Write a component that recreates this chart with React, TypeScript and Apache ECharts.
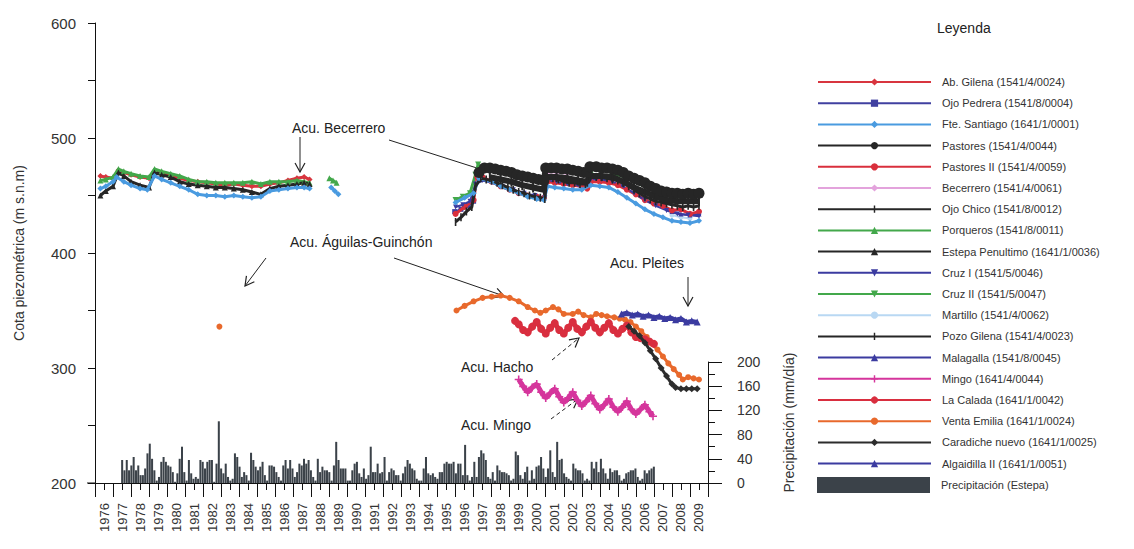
import React, { useEffect, useRef } from "react";
import * as echarts from "echarts";

// ---------- tick labels ----------
const yearLabels = [1976, 1977, 1978, 1979, 1980, 1981, 1982, 1983, 1984, 1985, 1986, 1987, 1988, 1989, 1990, 1991, 1992, 1993, 1994, 1995, 1996, 1997, 1998, 1999, 2000, 2001, 2002, 2003, 2004, 2005, 2006, 2007, 2008, 2009];
const yearBoundaries = [1976, 1977, 1978, 1979, 1980, 1981, 1982, 1983, 1984, 1985, 1986, 1987, 1988, 1989, 1990, 1991, 1992, 1993, 1994, 1995, 1996, 1997, 1998, 1999, 2000, 2001, 2002, 2003, 2004, 2005, 2006, 2007, 2008, 2009, 2010];

// ---------- piezometric series ([decimal year, m s.n.m]) ----------
const abGilena = [[1976.3, 467], [1976.6, 466], [1977.0, 465], [1977.3, 472], [1977.6, 470], [1978.0, 468], [1978.5, 466], [1979.0, 465], [1979.3, 471], [1979.7, 469], [1980.2, 467], [1980.7, 465], [1981.2, 463], [1981.7, 462], [1982.2, 461], [1982.7, 460], [1983.2, 459], [1983.7, 460], [1984.2, 459], [1984.7, 458], [1985.2, 458], [1985.7, 460], [1986.2, 461], [1986.7, 463], [1987.2, 465], [1987.6, 466], [1987.9, 464]];
const ojoPedrera = [[1995.95, 436], [1996.3, 438], [1996.7, 441], [1997.0, 445]];
const fteSantiago = [[1976.3, 456], [1976.6, 458], [1977.0, 462], [1977.2, 466], [1977.6, 462], [1978.0, 459], [1978.5, 456], [1978.9, 455], [1979.3, 467], [1979.7, 464], [1980.2, 461], [1980.7, 458], [1981.2, 455], [1981.7, 451], [1982.2, 450], [1982.7, 450], [1983.2, 449], [1983.7, 450], [1984.2, 449], [1984.7, 448], [1985.2, 449], [1985.7, 454], [1986.2, 455], [1986.7, 456], [1987.2, 457], [1987.6, 457], [1987.9, 456], [1988.5, "-"], [1989.1, 457], [1989.3, 454], [1989.5, 451], [1992, "-"], [1996.0, 444], [1996.5, 448], [1997.0, 452], [1997.3, 465], [1998.0, 462], [1998.5, 458], [1999.0, 455], [1999.5, 452], [2000.0, 449], [2000.5, 447], [2000.9, 446], [2001.1, 458], [2001.5, 457], [2002.0, 456], [2002.5, 455], [2003.0, 455], [2003.5, 459], [2004.0, 458], [2004.5, 457], [2005.0, 453], [2005.5, 448], [2006.0, 443], [2006.5, 438], [2007.0, 434], [2007.5, 431], [2008.0, 428], [2008.5, 427], [2009.0, 426], [2009.5, 428]];
const pastores = [[1997.3, 470], [1997.6, 474], [1997.9, 474], [1998.2, 473], [1998.5, 472], [1998.8, 471], [1999.1, 470], [1999.4, 468], [1999.7, 467], [2000.0, 466], [2000.3, 465], [2000.6, 464], [2000.9, 463], [2001.0, 474], [2001.3, 474], [2001.6, 474], [2001.9, 473], [2002.2, 473], [2002.5, 472], [2002.8, 471], [2003.1, 470], [2003.3, 470], [2003.45, 475], [2003.8, 475], [2004.1, 474], [2004.4, 474], [2004.7, 473], [2005.0, 472], [2005.3, 470], [2005.6, 467], [2005.9, 465], [2006.2, 463], [2006.5, 461], [2006.8, 458], [2007.1, 456], [2007.4, 454], [2007.7, 453], [2008.0, 452], [2008.3, 452], [2008.6, 451], [2008.9, 452], [2009.2, 451], [2009.5, 452]];
const pastoresII = [[1996.0, 434], [1996.5, 440], [1997.0, 446], [1997.2, 466], [1997.5, 466], [1998.0, 462], [1998.5, 458], [1999.0, 455], [1999.5, 452], [2000.0, 450], [2000.5, 449], [2000.9, 448], [2001.1, 462], [2001.5, 461], [2002.0, 460], [2002.5, 459], [2003.0, 458], [2003.3, 456], [2003.5, 462], [2004.0, 462], [2004.5, 461], [2005.0, 459], [2005.5, 455], [2006.0, 451], [2006.5, 446], [2007.0, 443], [2007.5, 441], [2008.0, 437], [2008.5, 438], [2009.0, 434], [2009.5, 436]];
const becerrero = [[2001.1, 470], [2001.6, 470], [2002.2, 469]];
const ojoChico = [[1996.0, 427], [1996.3, 431], [1996.6, 436], [1996.9, 440], [1997.1, 458], [1997.4, 465], [1997.7, 464], [1998.0, 463], [1998.3, 461], [1998.6, 459], [1998.9, 457], [1999.2, 455], [1999.5, 453], [1999.8, 452], [2000.1, 450], [2000.4, 449], [2000.7, 448], [2000.95, 447], [2001.05, 465], [2001.4, 465], [2001.7, 464], [2002.0, 462], [2002.3, 461], [2002.6, 461], [2002.9, 460], [2003.2, 460], [2003.45, 466], [2003.8, 466], [2004.1, 466], [2004.4, 465], [2004.7, 464], [2005.0, 463], [2005.3, 461], [2005.6, 458], [2005.9, 455], [2006.2, 452], [2006.5, 449], [2006.8, 447], [2007.1, 445], [2007.4, 444], [2007.7, 443], [2008.0, 442], [2008.3, 441], [2008.6, 440], [2008.9, 441], [2009.2, 440], [2009.5, 441]];
const porqueros = [[1976.3, 463], [1976.6, 464], [1977.0, 466], [1977.3, 473], [1977.6, 471], [1978.0, 469], [1978.5, 467], [1979.0, 466], [1979.3, 473], [1979.7, 471], [1980.2, 469], [1980.7, 467], [1981.2, 464], [1981.7, 462], [1982.2, 462], [1982.7, 461], [1983.2, 461], [1983.7, 461], [1984.2, 461], [1984.7, 462], [1985.2, 460], [1985.7, 462], [1986.2, 462], [1986.7, 462], [1987.2, 463], [1987.6, 462], [1987.9, 461], [1988.5, "-"], [1989.0, 465], [1989.2, 463], [1989.4, 461]];
const estepaPenultimo = [[1976.3, 450], [1976.6, 454], [1977.0, 458], [1977.3, 470], [1977.6, 467], [1978.0, 462], [1978.5, 459], [1979.0, 457], [1979.3, 470], [1979.7, 468], [1980.2, 466], [1980.7, 462], [1981.2, 460], [1981.7, 459], [1982.2, 458], [1982.7, 457], [1983.2, 457], [1983.7, 456], [1984.2, 455], [1984.7, 453], [1985.2, 451], [1985.7, 456], [1986.2, 458], [1986.7, 459], [1987.2, 460], [1987.6, 461], [1987.9, 460]];
const cruzI = [[1996.0, 440], [1996.4, 442], [1996.8, 445], [1997.1, 460], [1997.5, 463], [1998.0, 461], [1998.6, 458], [1999.2, 455], [1999.8, 452], [2000.4, 450], [2000.95, 448], [2001.05, 463], [2001.6, 462], [2002.2, 460], [2002.8, 459], [2003.3, 459], [2003.5, 464], [2004.1, 464], [2004.7, 462], [2005.3, 458], [2005.9, 452], [2006.5, 446], [2007.1, 441], [2007.7, 437], [2008.3, 434], [2008.9, 433], [2009.5, 432]];
const cruzII = [[1996.0, 446], [1996.4, 449], [1996.8, 452], [1997.1, 468], [1997.25, 477], [1997.5, 474], [1997.9, 472], [1998.5, 470], [1999.1, 468], [1999.7, 465], [2000.3, 463], [2000.9, 461], [2001.05, 472], [2001.6, 472], [2002.2, 471], [2002.8, 469], [2003.3, 468], [2003.5, 470], [2003.8, 466], [2004.1, 464], [2004.4, 465], [2004.7, 467], [2005.0, 468], [2005.4, 466], [2005.9, 462], [2006.5, 458], [2007.1, 454], [2007.7, 451], [2008.3, 449], [2009.0, 450], [2009.5, 449]];
const martillo = [[2008.0, 433], [2008.5, 431], [2009.0, 430]];
const pozoGilena = [[1997.9, 466], [1998.5, 464], [1999.1, 462], [1999.7, 459], [2000.3, 457], [2000.9, 455], [2001.0, 466], [2001.6, 466], [2002.2, 465], [2002.8, 463], [2003.3, 462], [2003.45, 467], [2004.1, 467], [2004.7, 466], [2005.3, 462], [2005.9, 457], [2006.5, 453], [2007.1, 449], [2007.7, 446], [2008.3, 445], [2008.9, 445], [2009.5, 445]];
const malagalla = [[2005.2, 347], [2005.5, 348], [2005.8, 346], [2006.1, 347], [2006.4, 345], [2006.7, 346], [2007.0, 344], [2007.3, 345], [2007.6, 343], [2007.9, 344], [2008.2, 342], [2008.5, 343], [2008.8, 340], [2009.1, 341], [2009.4, 340]];
const mingo = [[1999.5, 290], [1999.75, 284], [2000.0, 279], [2000.25, 283], [2000.5, 286], [2000.75, 279], [2001.0, 274], [2001.25, 278], [2001.5, 282], [2001.75, 275], [2002.0, 270], [2002.25, 274], [2002.5, 279], [2002.75, 272], [2003.0, 267], [2003.25, 271], [2003.5, 276], [2003.75, 269], [2004.0, 264], [2004.25, 268], [2004.5, 273], [2004.75, 266], [2005.0, 262], [2005.25, 266], [2005.5, 271], [2005.75, 264], [2006.0, 260], [2006.25, 264], [2006.5, 268], [2006.75, 262], [2006.95, 258]];
const laCalada = [[1999.3, 341], [1999.5, 338], [1999.75, 333], [2000.0, 331], [2000.25, 336], [2000.5, 340], [2000.75, 334], [2001.0, 330], [2001.25, 335], [2001.5, 339], [2001.75, 333], [2002.0, 330], [2002.25, 335], [2002.5, 340], [2002.75, 334], [2003.0, 331], [2003.25, 336], [2003.5, 340], [2003.75, 335], [2004.0, 331], [2004.25, 335], [2004.5, 339], [2004.75, 333], [2005.0, 330], [2005.25, 334], [2005.5, 337], [2005.75, 331], [2006.0, 327], [2006.25, 326], [2006.5, 325], [2006.75, 323], [2007.0, 321]];
const ventaEmilia = [[1982.9, 336], [1990, "-"], [1996.05, 350], [1996.5, 354], [1997.0, 358], [1997.5, 361], [1998.0, 362], [1998.5, 363], [1999.0, 361], [1999.5, 358], [2000.0, 353], [2000.4, 350], [2000.7, 348], [2001.0, 350], [2001.4, 353], [2001.7, 351], [2002.0, 347], [2002.5, 347], [2002.8, 349], [2003.1, 346], [2003.5, 344], [2003.8, 347], [2004.1, 346], [2004.4, 345], [2004.8, 344], [2005.1, 343], [2005.4, 342], [2005.7, 340], [2006.0, 336], [2006.3, 332], [2006.6, 327], [2006.9, 321], [2007.2, 316], [2007.5, 310], [2007.8, 304], [2008.1, 299], [2008.4, 294], [2008.6, 290], [2008.9, 292], [2009.2, 291], [2009.5, 290]];
const caradicheNuevo = [[2005.6, 336], [2005.9, 332], [2006.2, 328], [2006.5, 322], [2006.8, 315], [2007.1, 308], [2007.4, 300], [2007.7, 293], [2008.0, 286], [2008.2, 283], [2008.5, 282], [2008.8, 282], [2009.1, 282], [2009.4, 282]];
const algaidillaII = [[2008.0, 436], [2008.5, 434], [2009.0, 433], [2009.5, 434]];

// ---------- precipitation (mm/día), consecutive readings 1977.5 - 2007 ----------
const precipitation = [
  38, 21, 38, 21, 29, 43, 21, 29, 13, 13, 24, 49, 65, 40, 21, 4, 10, 35, 43, 35, 29, 27, 18, 2, 16, 40, 60, 18, 4, 38,
  16, 7, 10, 7, 38, 35, 24, 35, 38, 38, 2, 32, 102, 24, 16, 32, 10, 4, 7, 49, 43, 27, 10, 18, 13, 4, 50, 38, 27, 21,
  27, 35, 13, 4, 29, 29, 27, 18, 10, 4, 29, 38, 24, 38, 24, 10, 18, 32, 29, 40, 32, 38, 21, 10, 4, 40, 18, 27, 21, 21,
  18, 4, 29, 68, 38, 24, 24, 24, 4, 4, 21, 32, 35, 16, 10, 24, 7, 13, 60, 18, 18, 32, 16, 18, 43, 4, 18, 24, 21, 13,
  13, 4, 16, 27, 38, 32, 24, 21, 7, 4, 4, 24, 43, 16, 13, 16, 10, 7, 18, 18, 32, 35, 32, 32, 35, 16, 32, 32, 13, 63,
  13, 4, 10, 35, 10, 43, 54, 49, 38, 10, 7, 18, 4, 29, 21, 18, 18, 16, 13, 4, 7, 52, 46, 13, 7, 18, 27, 4, 21, 7,
  27, 29, 43, 24, 10, 24, 54, 18, 10, 68, 38, 40, 16, 10, 7, 4, 32, 24, 21, 21, 16, 4, 7, 4, 35, 24, 35, 18, 40, 24,
  16, 7, 24, 18, 21, 21, 13, 4, 7, 16, 18, 21, 21, 24, 10, 4, 7, 21, 16, 21, 24, 27,
];

const FONT = "'Liberation Sans', Arial, sans-serif";
const BAR_PATH = "path://M0,0L0.01,0M4,0H6V10H4ZM10,10L10.01,10";
const PLUS_PATH = "path://M4,0H6V4H10V6H6V10H4V6H0V4H4Z";

type SDef = { name: string; data: any[]; color: string; symbol: string; size: number; width: number; z: number; rotate?: number };

const seriesDefs: SDef[] = [
  { name: "Ab. Gilena (1541/4/0024)", data: abGilena, color: "#d8353f", symbol: "diamond", size: 6, width: 3, z: 2 },
  { name: "Ojo Pedrera (1541/8/0004)", data: ojoPedrera, color: "#4040a0", symbol: "rect", size: 5, width: 2, z: 2 },
  { name: "Fte. Santiago (1641/1/0001)", data: fteSantiago, color: "#4a9be0", symbol: "diamond", size: 6, width: 3, z: 4 },
  { name: "Pastores (1541/4/0044)", data: pastores, color: "#262626", symbol: "circle", size: 11, width: 6, z: 6 },
  { name: "Pastores II (1541/4/0059)", data: pastoresII, color: "#d92f3c", symbol: "circle", size: 6, width: 3, z: 3 },
  { name: "Becerrero (1541/4/0061)", data: becerrero, color: "#e3a3dc", symbol: "diamond", size: 5, width: 2, z: 2 },
  { name: "Ojo Chico (1541/8/0012)", data: ojoChico, color: "#262626", symbol: BAR_PATH, size: 8, width: 3, z: 4 },
  { name: "Porqueros (1541/8/0011)", data: porqueros, color: "#43a84b", symbol: "triangle", size: 6, width: 3, z: 3 },
  { name: "Estepa Penultimo (1641/1/0036)", data: estepaPenultimo, color: "#262626", symbol: "triangle", size: 6, width: 3, z: 3 },
  { name: "Cruz I (1541/5/0046)", data: cruzI, color: "#3b3ba0", symbol: "triangle", size: 5, width: 2, z: 3, rotate: 180 },
  { name: "Cruz II (1541/5/0047)", data: cruzII, color: "#43a84b", symbol: "triangle", size: 6, width: 3, z: 2, rotate: 180 },
  { name: "Martillo (1541/4/0062)", data: martillo, color: "#b9d8f3", symbol: "circle", size: 5, width: 2, z: 2 },
  { name: "Pozo Gilena (1541/4/0023)", data: pozoGilena, color: "#262626", symbol: BAR_PATH, size: 10, width: 6, z: 5 },
  { name: "Malagalla (1541/8/0045)", data: malagalla, color: "#3b3ba0", symbol: "triangle", size: 7, width: 4, z: 3 },
  { name: "Mingo (1641/4/0044)", data: mingo, color: "#d5359c", symbol: PLUS_PATH, size: 8, width: 5, z: 3 },
  { name: "La Calada (1641/1/0042)", data: laCalada, color: "#d92e3f", symbol: "circle", size: 8, width: 5, z: 3 },
  { name: "Venta Emilia (1641/1/0024)", data: ventaEmilia, color: "#e8692c", symbol: "circle", size: 6, width: 3, z: 2 },
  { name: "Caradiche nuevo (1641/1/0025)", data: caradicheNuevo, color: "#2c2c2c", symbol: "diamond", size: 7, width: 3, z: 4 },
  { name: "Algaidilla II (1641/1/0051)", data: algaidillaII, color: "#3b3ba0", symbol: "triangle", size: 5, width: 2, z: 2 },
];
const precipName = "Precipitación (Estepa)";

function arrow(x1: number, y1: number, x2: number, y2: number, dashed = false, head = 9) {
  const dx = x2 - x1, dy = y2 - y1;
  const L = Math.hypot(dx, dy);
  const ux = dx / L, uy = dy / L;
  const px = -uy, py = ux;
  const bx = x2 - ux * head, by = y2 - uy * head;
  const w = head * 0.55;
  return [
    { type: "line", silent: true, shape: { x1, y1, x2, y2 }, style: { stroke: "#222", lineWidth: 1, lineDash: dashed ? [4, 3] : null } },
    { type: "polyline", silent: true, shape: { points: [[bx + px * w, by + py * w], [x2, y2], [bx - px * w, by - py * w]] }, style: { stroke: "#222", lineWidth: 1.2, fill: null } },
  ];
}

function label(text: string, x: number, y: number) {
  return { type: "text", silent: true, x, y, style: { text, font: `14px ${FONT}`, fill: "#222", verticalAlign: "middle", align: "left" } };
}

export default function App() {
  const ref = useRef<HTMLDivElement>(null);
  useEffect(() => {
    const chart = echarts.init(ref.current!, null, { renderer: "svg" });
    const lineSeries = seriesDefs.map((d) => ({
      type: "line",
      name: d.name,
      data: d.data,
      xAxisIndex: 0,
      yAxisIndex: 0,
      symbol: d.symbol,
      symbolSize: d.size,
      symbolRotate: d.rotate || 0,
      showSymbol: true,
      connectNulls: false,
      z: d.z,
      lineStyle: { color: d.color, width: d.width },
      itemStyle: { color: d.color },
      emphasis: { disabled: true },
    }));
    const option: any = {
      animation: false,
      backgroundColor: "#ffffff",
      textStyle: { fontFamily: FONT },
      grid: [
        { left: 95, right: 426, top: 23, bottom: 66 },
        { left: 121, right: 479, top: 362, bottom: 66 },
      ],
      xAxis: [
        {
          type: "value", gridIndex: 0, min: 1976, max: 2010, position: "bottom",
          splitLine: { show: false },
          axisLine: { show: true, lineStyle: { color: "#111", width: 1 } },
          axisTick: { show: true, length: 14, customValues: yearBoundaries, lineStyle: { color: "#111" } },
          axisLabel: {
            show: true, customValues: yearLabels.map((y) => y + 0.5), rotate: 90, margin: 20,
            formatter: (v: number) => String(Math.floor(v)), fontSize: 13, color: "#333", fontFamily: FONT,
          },
        },
        {
          type: "value", gridIndex: 0, min: 1976, max: 2010, position: "bottom",
          splitLine: { show: false }, axisLine: { show: false },
          axisTick: { show: true, length: 7, customValues: yearLabels.map((y) => y + 0.5), lineStyle: { color: "#111" } },
          axisLabel: { show: false },
        },
        { type: "category", gridIndex: 1, show: false, data: precipitation.map((_, i) => i) },
      ],
      yAxis: [
        {
          type: "value", gridIndex: 0, min: 200, max: 600, interval: 100, position: "left",
          name: "Cota piezométrica (m s.n.m)", nameLocation: "middle", nameGap: 69,
          nameTextStyle: { fontSize: 14, color: "#333", fontFamily: FONT },
          splitLine: { show: false },
          axisLine: { show: true, lineStyle: { color: "#111" } },
          axisTick: { show: true, length: 7, lineStyle: { color: "#111" } },
          minorTick: { show: true, splitNumber: 2, length: 7, lineStyle: { color: "#111" } },
          axisLabel: { fontSize: 15, color: "#333", margin: 19, fontFamily: FONT },
        },
        {
          type: "value", gridIndex: 1, min: 0, max: 200, interval: 40, position: "right", offset: 53,
          name: "Precipitación (mm/día)", nameLocation: "middle", nameGap: 74, nameRotate: 90,
          nameTextStyle: { fontSize: 14, color: "#333", fontFamily: FONT },
          splitLine: { show: false },
          axisLine: { show: true, lineStyle: { color: "#111" } },
          axisTick: { show: true, length: 14, lineStyle: { color: "#111" } },
          minorTick: { show: true, splitNumber: 2, length: 7, lineStyle: { color: "#111" } },
          axisLabel: { fontSize: 14, color: "#333", margin: 29, fontFamily: FONT },
        },
      ],
      legend: [
        {
          orient: "vertical", left: 812, top: 70, itemWidth: 113, itemHeight: 9, itemGap: 7.2,
          selectedMode: false,
          data: seriesDefs.map((d) => d.name),
          lineStyle: { width: 2 },
          textStyle: { fontSize: 11, color: "#333", lineHeight: 14, padding: [0, 0, 0, 6], fontFamily: FONT },
        },
        {
          orient: "vertical", left: 812, top: 472, itemWidth: 113, itemHeight: 16,
          selectedMode: false, icon: "rect",
          data: [precipName],
          textStyle: { fontSize: 11, color: "#333", lineHeight: 16, padding: [0, 0, 0, 6], fontFamily: FONT },
        },
      ],
      series: [
        ...lineSeries,
        {
          type: "bar", name: precipName, xAxisIndex: 2, yAxisIndex: 1, data: precipitation,
          barCategoryGap: "12%", itemStyle: { color: "#3b4249" }, emphasis: { disabled: true }, z: 1,
        },
      ],
      graphic: {
        elements: [
          { type: "text", silent: true, x: 937, y: 28, style: { text: "Leyenda", font: `14px ${FONT}`, fill: "#222", verticalAlign: "middle" } },
          { type: "line", silent: true, shape: { x1: 87, y1: 483, x2: 95, y2: 483 }, style: { stroke: "#111", lineWidth: 1 } },
          label("Acu. Becerrero", 292, 128),
          ...arrow(300, 137, 300, 172),
          { type: "line", silent: true, shape: { x1: 389, y1: 140, x2: 480, y2: 169 }, style: { stroke: "#222", lineWidth: 1 } },
          label("Acu. Águilas-Guinchón", 290, 242),
          ...arrow(266, 258, 245, 286),
          ...arrow(394, 258, 504, 296),
          label("Acu. Pleites", 610, 263),
          ...arrow(688, 277, 688, 306),
          label("Acu. Hacho", 461, 367),
          ...arrow(552, 360, 579, 338, true),
          label("Acu. Mingo", 461, 425),
          ...arrow(551, 419, 578, 399, true),
        ],
      },
    };
    chart.setOption(option);
    return () => chart.dispose();
  }, []);
  return <div ref={ref} style={{ position: "absolute", left: 0, top: 0, width: 1134, height: 549 }} />;
}
